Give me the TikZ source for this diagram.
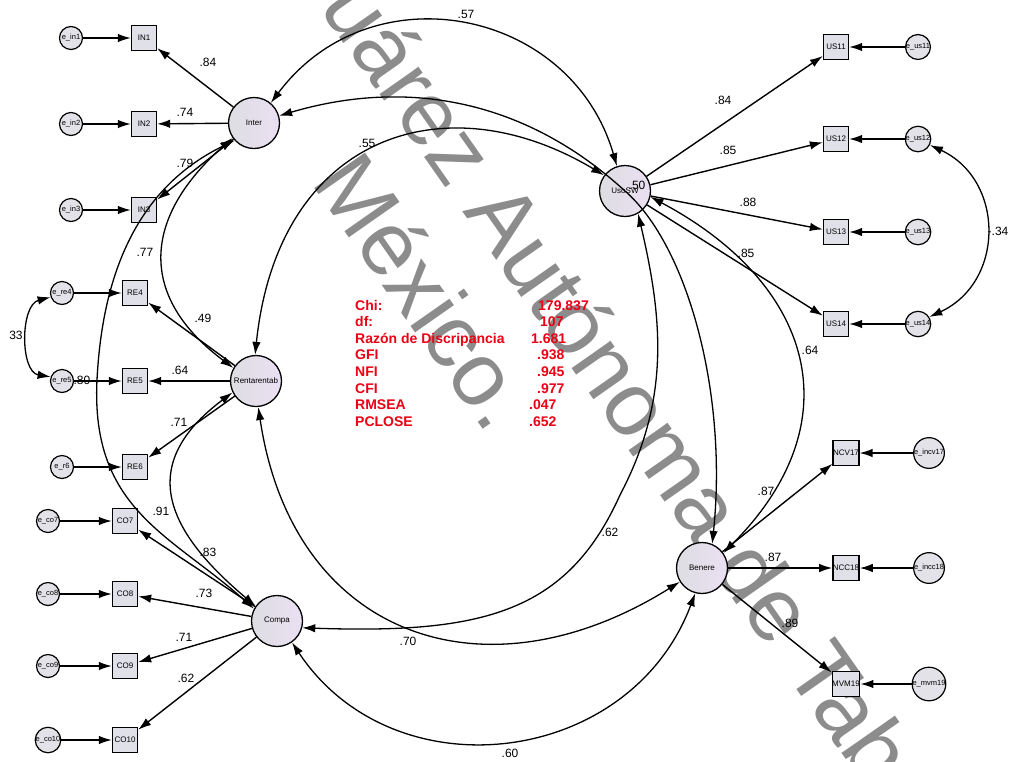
\documentclass[tikz,border=0pt]{standalone}
\usepackage{fontspec}
\setmainfont{Liberation Sans}
\usetikzlibrary{arrows.meta}

\definecolor{latentL}{RGB}{222,222,226}
\definecolor{latentR}{RGB}{234,223,243}
\definecolor{boxfill}{RGB}{224,224,232}
\definecolor{errfill}{RGB}{226,226,232}
\definecolor{fitred}{RGB}{235,0,20}
\definecolor{wmgray}{RGB}{140,140,140}

\begin{document}
\begin{tikzpicture}[x=1pt,y=-1pt,
  latent/.style={circle,draw,line width=1.3pt,minimum size=51pt,inner sep=0pt,
    left color=latentL,right color=latentR,font=\fontsize{8}{8}\selectfont},
  obs/.style={rectangle,draw,line width=1.3pt,minimum size=25pt,inner sep=0pt,
    fill=boxfill,font=\fontsize{8}{8}\selectfont},
  err/.style={circle,draw,line width=1.2pt,minimum size=23pt,inner sep=0pt,
    fill=errfill,font=\fontsize{7.5}{7.5}\selectfont},
  load/.style={line width=1.4pt,-{Latex[length=13pt,width=8.5pt]}},
  cov/.style={line width=1.3pt,{Latex[length=13pt,width=8.5pt]}-{Latex[length=13pt,width=8.5pt]}},
  coef/.style={font=\fontsize{12}{12}\selectfont,inner sep=0pt},
  fit/.style={font=\bfseries\fontsize{14}{14}\selectfont,text=fitred,inner sep=0pt,anchor=base west},
  wm/.style={font=\fontsize{90}{90}\selectfont,text=wmgray,inner sep=0pt,anchor=base west,rotate=-55}
]
\useasboundingbox (0,0) rectangle (1011,761);
\clip (0,0) rectangle (1011,761);
\fill[white] (0,0) rectangle (1011,761);

% watermark
\node[wm] (wm1) at (293,-30) {Juárez Autónoma de Tabasco};
\node[wm] (wm2) at (310,182) {México.};

% latent factors
\node[latent] (I) at (254,123) {Inter};
\node[latent] (U) at (625,191) {UsoSW};
\node[latent] (R) at (256,381) {Rentarentab};
\node[latent] (C) at (277,621) {Compa};
\node[latent] (B) at (702,568) {Benere};

% indicators
\node[obs] (IN1) at (144,38) {IN1};
\node[obs] (IN2) at (144,124) {IN2};
\node[obs] (IN3) at (144,210) {IN3};
\node[obs] (RE4) at (135,293) {RE4};
\node[obs] (RE5) at (135,381) {RE5};
\node[obs] (RE6) at (135,467) {RE6};
\node[obs] (CO7) at (125,521) {CO7};
\node[obs] (CO8) at (125,594) {CO8};
\node[obs] (CO9) at (125,666) {CO9};
\node[obs] (CO10) at (125,740) {CO10};
\node[obs] (US11) at (836,47) {US11};
\node[obs] (US12) at (836,139) {US12};
\node[obs] (US13) at (836,232) {US13};
\node[obs] (US14) at (836,324) {US14};
\node[obs] (NCV) at (846,453) {NCV17};
\node[obs] (NCC) at (846,568) {NCC18};
\node[obs] (MVM) at (846,684) {MVM19};

% error terms
\node[err] (ein1) at (71,38) {e\_in1};
\node[err] (ein2) at (71,124) {e\_in2};
\node[err] (ein3) at (71,210) {e\_in3};
\node[err] (ere4) at (62,293) {e\_re4};
\node[err] (ere5) at (62,381) {e\_re5};
\node[err] (er6) at (62,467) {e\_r6};
\node[err] (eco7) at (48,521) {e\_co7};
\node[err] (eco8) at (48,594) {e\_co8};
\node[err] (eco9) at (48,666) {e\_co9};
\node[err] (eco10) at (48,740) {e\_co10};
\node[err] (eus11) at (918,47) {e\_us11};
\node[err] (eus12) at (918,139) {e\_us12};
\node[err] (eus13) at (918,232) {e\_us13};
\node[err] (eus14) at (918,324) {e\_us14};
\node[err] (encv) at (929,453) {e\_incv17};
\node[err] (encc) at (929,568) {e\_incc18};
\node[err] (emvm) at (929,684) {e\_mvm19};

% error paths
\foreach \e/\o in {ein1/IN1,ein2/IN2,ein3/IN3,ere4/RE4,ere5/RE5,er6/RE6,
  eco7/CO7,eco8/CO8,eco9/CO9,eco10/CO10,eus11/US11,eus12/US12,eus13/US13,
  eus14/US14,encv/NCV,encc/NCC,emvm/MVM}
  \draw[load] (\e) -- (\o);

% factor loadings
\foreach \f/\o in {I/IN1,I/IN2,I/IN3,R/RE4,R/RE5,R/RE6,C/CO7,C/CO8,C/CO9,C/CO10,
  U/US11,U/US12,U/US13,U/US14,B/NCV,B/NCC,B/MVM}
  \draw[load] (\f) -- (\o);

% covariances between factors
\draw[cov] (I.50) .. controls (371,-31) and (571,8) .. (U.108);
\draw[cov] (I.16) .. controls (400,80) and (520,95) .. (U.center)
  .. controls (687,245) and (728,392) .. (B.67);
\draw[cov] (R.92) .. controls (278,135) and (445,80) .. (U.143);
\draw[cov] (I.215) .. controls (143,217) and (137,296) .. (R.150);
\draw[cov] (I.222) .. controls (153,180) and (103.5,250) .. (97,380)
  .. controls (90.5,510) and (172,535) .. (C.152);
\draw[cov] (R.206) .. controls (137,464) and (164,529) .. (C.145);
\draw[cov] (R.-85) .. controls (292.5,637) and (484.5,704) .. (B.212);
\draw[cov] (U.-60) .. controls (663,320) and (670,400) .. (620,495)
  .. controls (567,613) and (482,634) .. (C.-15);
\draw[cov] (U.-13) .. controls (811.5,282.5) and (856,420) .. (B.35);
\draw[cov] (C.-55) .. controls (393.75,795.5) and (630,767) .. (B.-105);

% error covariances
\draw[cov] (ere4.200) .. controls (20,305) and (20,372) .. (ere5.160);
\draw[cov] (eus12.-27) .. controls (1005,180) and (1005,282) .. (eus14.32);

% coefficients
\node[coef] (k1) at (208,62) {.84};
\node[coef] (k2) at (185,112) {.74};
\node[coef] (k3) at (185,163) {.79};
\node[coef] (k4) at (145,252) {.77};
\node[coef] (k5) at (203,318) {.49};
\node[coef] (k6) at (180,370) {.64};
\node[coef] (k7) at (179,422) {.71};
\node[coef] (k8) at (82,380) {.80};
\node[coef] (k9) at (16,335) {33};
\node[coef] (k10) at (161,511) {.91};
\node[coef] (k11) at (208,552) {.83};
\node[coef] (k12) at (204,593) {.73};
\node[coef] (k13) at (184,637) {.71};
\node[coef] (k14) at (186,678) {.62};
\node[coef] (k15) at (466,14) {.57};
\node[coef] (k16) at (367,143) {.55};
\node[coef] (k17) at (637,185) {.50};
\node[coef] (k18) at (723,100) {.84};
\node[coef] (k19) at (728,150) {.85};
\node[coef] (k20) at (748,202) {.88};
\node[coef] (k21) at (746,253) {.85};
\node[coef] (k22) at (810,350) {.64};
\node[coef] (k23) at (998,231) {-.34};
\node[coef] (k24) at (766,491) {.87};
\node[coef] (k25) at (773,557) {.87};
\node[coef] (k26) at (790,623) {.89};
\node[coef] (k27) at (610,532) {.62};
\node[coef] (k28) at (408,641) {.70};
\node[coef] (k29) at (510,753) {.60};

% fit indices
\node[fit] (f1) at (355,310) {Chi:};
\node[fit] (f2) at (355,326.6) {df:};
\node[fit] (f3) at (355,343.2) {Razón de Discripancia};
\node[fit] (f4) at (355,359.8) {GFI};
\node[fit] (f5) at (355,376.4) {NFI};
\node[fit] (f6) at (355,393) {CFI};
\node[fit] (f7) at (355,409.6) {RMSEA};
\node[fit] (f8) at (355,426.2) {PCLOSE};
\node[fit] (v1) at (538,310) {179.837};
\node[fit] (v2) at (540,326.6) {107};
\node[fit] (v3) at (531,343.2) {1.681};
\node[fit] (v4) at (537,359.8) {.938};
\node[fit] (v5) at (537,376.4) {.945};
\node[fit] (v6) at (537,393) {.977};
\node[fit] (v7) at (529,409.6) {.047};
\node[fit] (v8) at (529,426.2) {.652};
\end{tikzpicture}
\end{document}
